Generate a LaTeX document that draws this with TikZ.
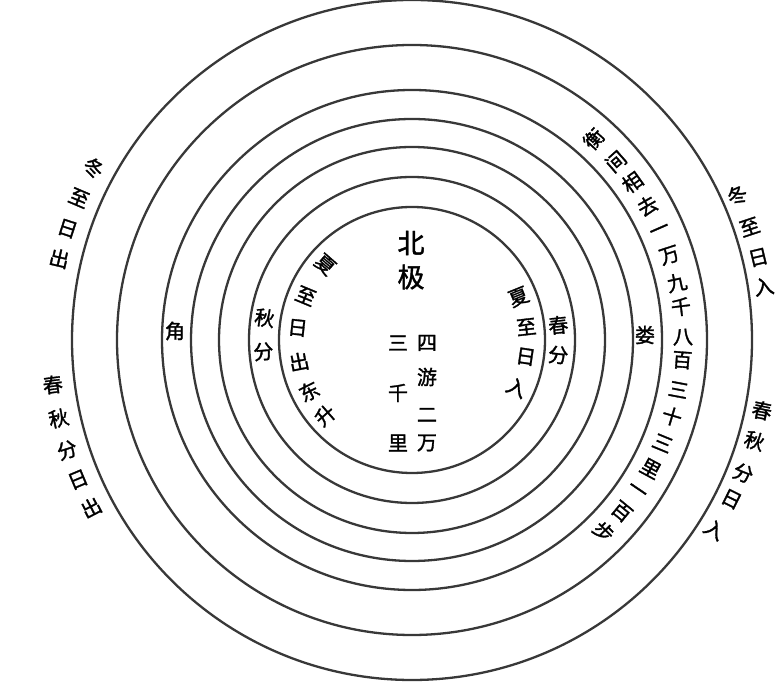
\documentclass[tikz,border=0pt]{standalone}
\usepackage{fontspec}
\setmainfont{Noto Sans CJK SC}[FakeBold=1.5]
\usepackage{tikz}

\definecolor{ringgray}{HTML}{383838}

\begin{document}
\begin{tikzpicture}[x=1pt, y=1pt]
      \useasboundingbox (0,0) rectangle (775,692);

      \begin{scope}[shift={(412,352)}]
        % the seven rings
        \foreach \r [count=\i] in {133,163,193,221,250,295,340}
          \draw[ringgray, line width=2.3pt] (0,0) circle [radius=\r pt];

        \begin{scope}[every node/.style={inner sep=0pt, font=\fontsize{20}{20}\selectfont}]
          % centre
          \node (bei) at (-1,97) {\fontsize{27}{27}\selectfont 北};
          \node (ji) at (-1,63) {\fontsize{27}{27}\selectfont 极};
          \node (si) at (15,-3) {四};
          \node (you) at (15,-37) {游};
          \node (er) at (15,-75) {二};
          \node (wan) at (15,-103) {万};
          \node (san) at (-14,-3) {三};
          \node (qian) at (-14,-53) {千};
          \node (li) at (-14,-103) {里};

          \node (jiao) at (-237,9) {角};
          \node (lou) at (233,5) {娄};

          % left side, reading downwards
          \foreach \a/\ch [count=\i] in {139/夏,157.5/至,174/日,191/出,206.5/东,221/升}
            \node (xzl\i) [rotate=\a-180] at (\a:115pt) {\ch};
          \foreach \a/\ch [count=\i] in {171.5/秋,184.5/分}
            \node (qf\i) [rotate=\a-180] at (\a:149pt) {\ch};
          \foreach \a/\ch [count=\i] in {151.6/冬,156.9/至,162.1/日,167/出}
            \node (dzl\i) [rotate=\a-180] at (\a:362pt) {\ch};
          \foreach \a/\ch [count=\i] in {187.1/春,192.5/秋,197.7/分,202.7/日,207.6/出}
            \node (cql\i) [rotate=\a-180] at (\a:362pt) {\ch};

          % right side, reading downwards
          \foreach \a/\ch [count=\i] in {22/夏,6.5/至,-8.4/日,-24.5/入}
            \node (xzr\i) [rotate=\a] at (\a:115pt) {\ch};
          \foreach \a/\ch [count=\i] in {5.8/春,-5.9/分}
            \node (cf\i) [rotate=\a] at (\a:147pt) {\ch};
          \foreach \a/\ch [count=\i] in {47.9/衡,41.2/间,35.6/相,29.7/去,23.6/一,18.2/万,12.2/九,7/千,0.6/八,-4.3/百,-10.6/三,-16.4/十,-22.4/三,-28.3/里,-34.1/一,-39.3/百,-45/步}
            \node (hj\i) [rotate=\a] at (\a:271pt) {\ch};
          \foreach \a/\ch [count=\i] in {24/冬,18.5/至,13.4/日,8.6/入}
            \node (dzr\i) [rotate=\a] at (\a:356pt) {\ch};
          \foreach \a/\ch [count=\i] in {-11.4/春,-16.4/秋,-21.9/分,-26.5/日,-32.1/入}
            \node (cqr\i) [rotate=\a] at (\a:357pt) {\ch};
        \end{scope}
      \end{scope}
   \end{tikzpicture}
\end{document}
